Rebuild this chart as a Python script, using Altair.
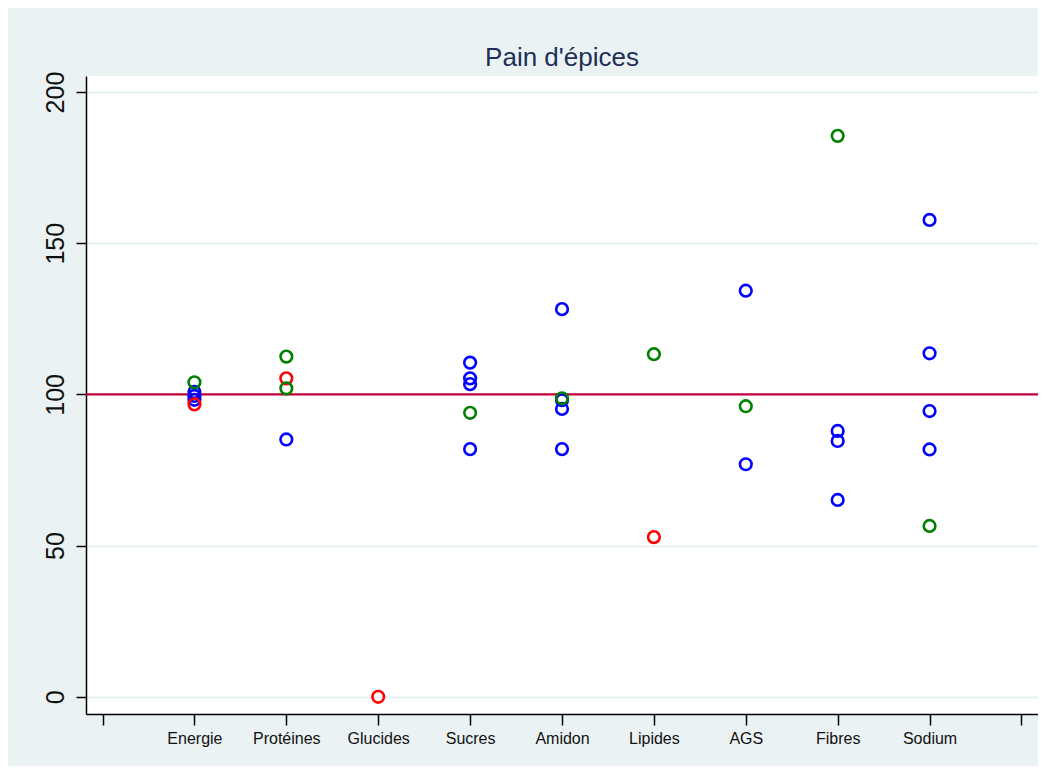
import altair as alt
import pandas as pd

categories = ["Energie", "Protéines", "Glucides", "Sucres", "Amidon",
              "Lipides", "AGS", "Fibres", "Sodium"]

# series drawn in this order: blue, red, green
blue_cat = [1, 1, 1, 2, 4, 4, 4, 4, 5, 5, 5, 5, 7, 7, 8, 8, 8, 9, 9, 9, 9]
blue_val = [100.8, 99.5, 98.2, 85.1, 110.5, 105.3, 103.4, 81.9, 128.2, 98.1, 95.2, 81.9,
            134.3, 76.9, 87.9, 84.6, 65.1, 157.7, 113.6, 94.5, 81.8]

red_cat = [1, 2, 3, 6]
red_val = [96.7, 105.3, 0.0, 52.8]

green_cat = [1, 2, 2, 4, 5, 6, 7, 8, 9]
green_val = [104.0, 112.5, 102.0, 93.9, 98.7, 113.3, 96.1, 185.5, 56.5]

ref_value = [100]
y_ticks = [0, 50, 100, 150, 200]
x_ticks = list(range(0, 11))

rows = []
for s, cs, vs in (("blue", blue_cat, blue_val), ("red", red_cat, red_val),
                  ("green", green_cat, green_val)):
    for c, v in zip(cs, vs):
        rows.append({"pos": c, "value": v, "series": s, "z": len(rows)})
df = pd.DataFrame(rows)

labels_js = "[" + ",".join("'" + c.replace("'", "\\'") + "'" for c in categories) + "]"
label_expr = f"datum.value >= 1 && datum.value <= 9 ? {labels_js}[datum.value - 1] : ''"

FONT = "Liberation Sans"

x_enc = alt.X("pos:Q",
              scale=alt.Scale(domain=[-0.18, 10.18], nice=False, zero=False),
              axis=alt.Axis(values=x_ticks, labelExpr=label_expr, title=None, grid=False,
                            labelFontSize=16, labelFont=FONT, labelColor="#111111",
                            labelPadding=5, tickSize=11, tickColor="#000000",
                            tickWidth=1.5, domainColor="#000000", domainWidth=1.5))
y_enc = alt.Y("value:Q",
              scale=alt.Scale(domain=[-5.7, 205.3], nice=False, zero=False),
              axis=alt.Axis(values=y_ticks, title=None, grid=True, gridColor="#E6EFF1",
                            gridWidth=2, labelAngle=270, labelAlign="center",
                            labelBaseline="alphabetic", labelPadding=13,
                            labelFontSize=25, labelFont=FONT, labelColor="#111111",
                            tickSize=10, tickColor="#000000", tickWidth=1.5,
                            domainColor="#000000", domainWidth=1.5))

points = alt.Chart(df).mark_point(shape="circle", filled=False, size=135,
                                  strokeWidth=2.6, opacity=1).encode(
    x=x_enc,
    y=y_enc,
    color=alt.Color("series:N",
                    scale=alt.Scale(domain=["blue", "red", "green"],
                                    range=["#0000FF", "#FF0000", "#008000"]),
                    legend=None),
    order=alt.Order("z:Q"),
)

ref = alt.Chart(pd.DataFrame({"value": ref_value})).mark_rule(
    color="#C4003A", strokeWidth=2.2).encode(y=alt.Y("value:Q"))

chart = alt.layer(ref, points).properties(
    width=952,
    height=638,
    title=alt.TitleParams("Pain d'épices", anchor="middle", fontSize=26,
                          font=FONT, fontWeight="normal", color="#1E2F5A",
                          baseline="alphabetic", offset=-21),
    background="#EAF2F3",
    padding={"left": 78, "top": 68, "right": 0, "bottom": 52},
    autosize=alt.AutoSizeParams(type="none"),
).configure_view(fill="#FFFFFF", strokeWidth=0)

chart.save("out.html", embed_options={"renderer": "svg", "actions": False})
